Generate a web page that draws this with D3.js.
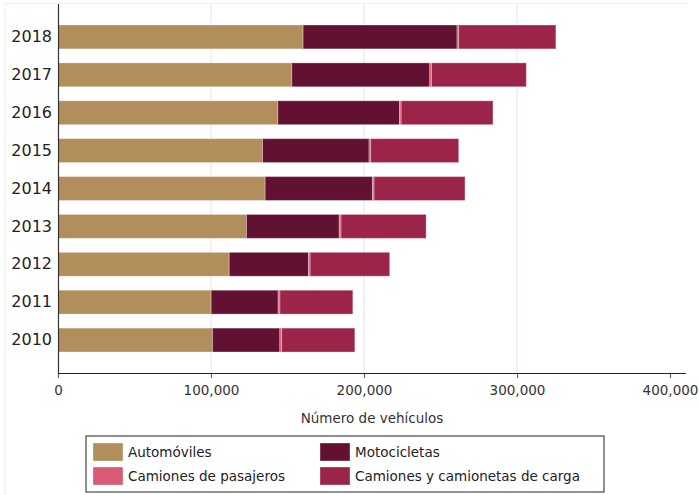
<!DOCTYPE html>
<html>
<head>
<meta charset="utf-8">
<script src="https://cdn.jsdelivr.net/npm/d3@7"></script>
<style>
  html, body { margin: 0; padding: 0; background: #fff; }
  svg { display: block; font-family: "DejaVu Sans", sans-serif; }
</style>
</head>
<body>
<svg id="chart" width="699" height="495"></svg>
<script>
const years = ["2018", "2017", "2016", "2015", "2014", "2013", "2012", "2011", "2010"];
const seriesNames = ["Automóviles", "Motocicletas", "Camiones de pasajeros", "Camiones y camionetas de carga"];
const automoviles = [160200, 152800, 143700, 133700, 135400, 123200, 111900, 100100, 101000];
const motocicletas = [100600, 90200, 79500, 69600, 70100, 60600, 51800, 43800, 44000];
const pasajeros = [1100, 1100, 1100, 1100, 1100, 1200, 1100, 1200, 1200];
const carga = [63500, 62000, 60000, 57500, 59400, 55600, 52000, 47600, 47800];
const xTicks = [0, 100000, 200000, 300000, 400000];
const colors = ["#B38E5D", "#621132", "#D85A74", "#9D2449"];

const svg = d3.select("#chart");

// faint outer panel border
svg.append("path")
  .attr("d", "M5,495 V3.5 H687")
  .attr("fill", "none").attr("stroke", "#eef1f1").attr("stroke-width", 1);

const x = d3.scaleLinear().domain([0, 400000]).range([58, 670]);
const y = d3.scaleBand().domain(years).range([18, 359]).paddingInner(0.37).paddingOuter(0.185);

const rows = years.map((yr, i) => ({
  year: yr,
  "Automóviles": automoviles[i],
  "Motocicletas": motocicletas[i],
  "Camiones de pasajeros": pasajeros[i],
  "Camiones y camionetas de carga": carga[i]
}));
const stacked = d3.stack().keys(seriesNames)(rows);

// gridlines
svg.append("g").selectAll("line")
  .data([100000, 200000, 300000])
  .join("line")
  .attr("x1", d => x(d)).attr("x2", d => x(d))
  .attr("y1", 4).attr("y2", 373)
  .attr("stroke", "#e8eff0").attr("stroke-width", 1.5);

// bars
svg.append("g").selectAll("g")
  .data(stacked)
  .join("g")
  .attr("fill", (d, i) => colors[i])
  .selectAll("rect")
  .data(d => d)
  .join("rect")
  .attr("x", d => x(d[0]))
  .attr("y", d => y(d.data.year))
  .attr("width", d => x(d[1]) - x(d[0]))
  .attr("height", y.bandwidth())
  .attr("stroke", "rgba(255,255,255,0.3)")
  .attr("stroke-width", 1);

// x axis
const xAxis = d3.axisBottom(x).tickValues(xTicks).tickFormat(d3.format(",")).tickSize(5).tickSizeOuter(0);
const gx = svg.append("g").attr("transform", "translate(0,373)").call(xAxis);
gx.select(".domain").remove();
gx.selectAll(".tick line").attr("stroke", "#666").attr("stroke-width", 1.2);
gx.selectAll(".tick text").attr("font-size", 13.5).attr("fill", "#333").attr("dy", "1.02em")
  .attr("font-family", "DejaVu Sans, sans-serif");
svg.append("line").attr("x1", 58).attr("x2", 686).attr("y1", 373.5).attr("y2", 373.5)
  .attr("stroke", "#222").attr("stroke-width", 1);

// y axis
const yAxis = d3.axisLeft(y).tickSize(0);
const gy = svg.append("g").attr("transform", "translate(58,0)").call(yAxis);
gy.select(".domain").remove();
gy.selectAll(".tick text").attr("font-size", 16).attr("fill", "#222").attr("x", -6)
  .attr("font-family", "DejaVu Sans, sans-serif");
svg.append("line").attr("x1", 58.5).attr("x2", 58.5).attr("y1", 4).attr("y2", 374)
  .attr("stroke", "#333").attr("stroke-width", 1.2);

// axis title
svg.append("text").attr("x", 372).attr("y", 423).attr("text-anchor", "middle")
  .attr("font-size", 13.5).attr("fill", "#333").text("Número de vehículos");

// legend
const lg = svg.append("g");
lg.append("rect").attr("x", 86).attr("y", 436).attr("width", 518).attr("height", 56)
  .attr("fill", "#fff").attr("stroke", "#222").attr("stroke-width", 1);
const legPos = [[93, 443], [320, 443], [93, 467], [320, 467]];
seriesNames.forEach((name, i) => {
  const [lx, ly] = legPos[i];
  lg.append("rect").attr("x", lx).attr("y", ly).attr("width", 30).attr("height", 18)
    .attr("fill", colors[i]).attr("stroke", "rgba(255,255,255,0.35)");
  lg.append("text").attr("x", lx + 35).attr("y", ly + 9).attr("dy", "0.35em")
    .attr("font-size", 13.5).attr("fill", "#222").text(name);
});
</script>
</body>
</html>
